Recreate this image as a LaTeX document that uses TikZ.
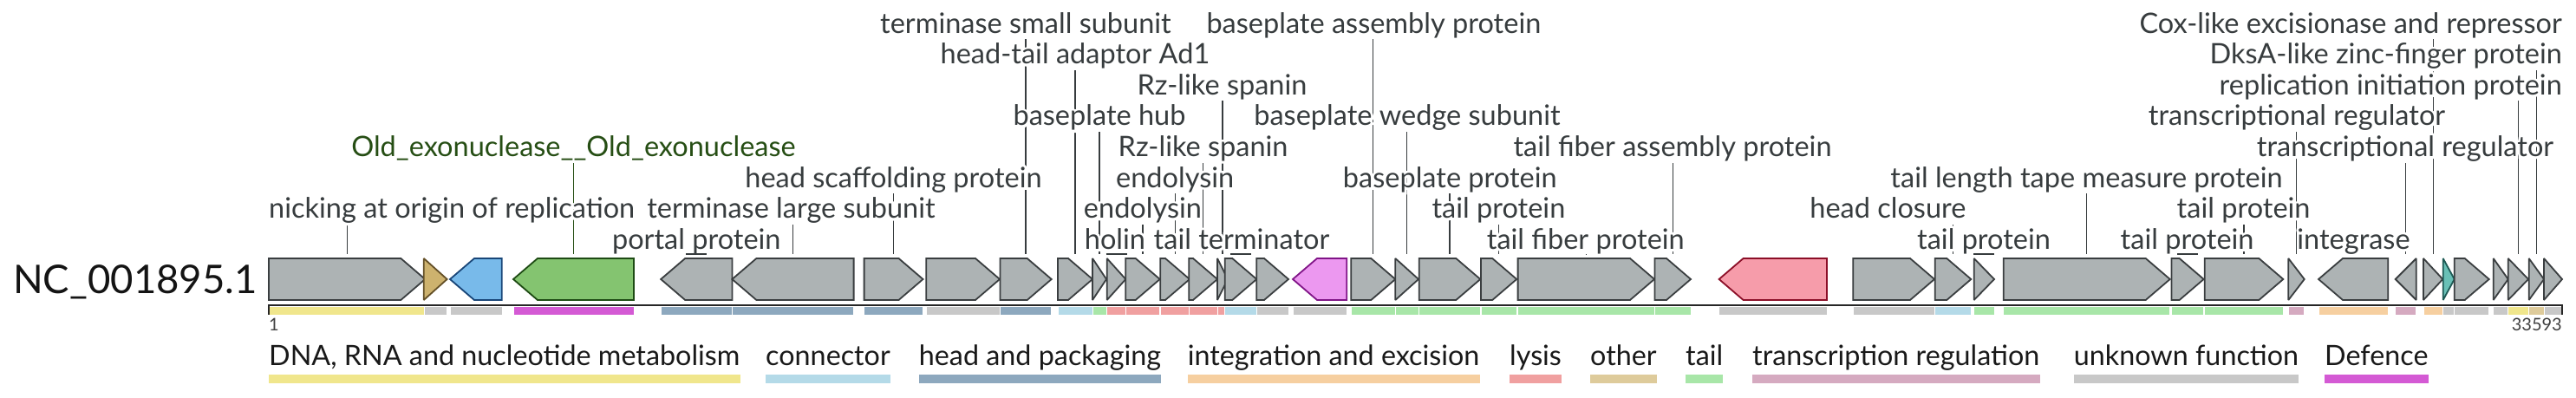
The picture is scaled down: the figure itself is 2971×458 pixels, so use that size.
\documentclass[tikz,border=0pt]{standalone}
\usepackage{fontspec}
\setmainfont{Lato}
\newfontfamily\halofont[FakeBold=17]{Lato}
\usetikzlibrary{calc}
\pgfdeclarelayer{bg}
\pgfsetlayers{bg,main}
\definecolor{gfill}{RGB}{173,179,180}
\definecolor{gline}{RGB}{58,62,64}
\definecolor{labc}{RGB}{55,60,62}
\definecolor{exo}{RGB}{38,78,20}
\definecolor{cDNA}{RGB}{240,230,140}
\definecolor{cCon}{RGB}{180,218,232}
\definecolor{cHead}{RGB}{141,168,190}
\definecolor{cInt}{RGB}{246,207,160}
\definecolor{cLys}{RGB}{240,160,160}
\definecolor{cOth}{RGB}{222,203,155}
\definecolor{cTail}{RGB}{168,230,168}
\definecolor{cTr}{RGB}{213,170,192}
\definecolor{cUnk}{RGB}{200,200,200}
\definecolor{cDef}{RGB}{212,90,212}
\newcommand\fgene[5]{%
  \fill[#5,draw=white,line width=0.6] (#2,353.5) rectangle (#3,363.3);
  \pgfmathsetmacro\gsh{max(#2,#3-28)}%
  \draw[gene,#4] (#2,298) -- (\gsh,298) -- (#3,322) -- (\gsh,346) -- (#2,346) -- cycle;
  \coordinate (#1) at ({(#2+#3)/2},293);}
\newcommand\rgene[5]{%
  \fill[#5,draw=white,line width=0.6] (#2,353.5) rectangle (#3,363.3);
  \pgfmathsetmacro\gsh{min(#3,#2+28)}%
  \draw[gene,#4] (#3,298) -- (\gsh,298) -- (#2,322) -- (\gsh,346) -- (#3,346) -- cycle;
  \coordinate (#1) at ({(#2+#3)/2},293);}
\newcommand\labellist{%
\glab{lnick}{anchor=base west}{310}{7}{nicking at origin of replication}
\glab{lexo}{anchor=base,text=exo}{661.5}{5}{Old\_exonuclease\_\_Old\_exonuclease}
\glab{lportal}{anchor=base}{803.3}{8}{portal protein}
\glab{ltls}{anchor=base}{912.5}{7}{terminase large subunit}
\glab{lhsp}{anchor=base}{1030.5}{6}{head scaffolding protein}
\glab{ltss}{anchor=base}{1183}{1}{terminase small subunit}
\glab{lhta}{anchor=base}{1240}{2}{head-tail adaptor Ad1}
\glab{lbhub}{anchor=base}{1268}{4}{baseplate hub}
\glab{lholin}{anchor=base}{1286}{8}{holin}
\glab{lendoa}{anchor=base}{1318}{7}{endolysin}
\glab{lendob}{anchor=base}{1355.2}{6}{endolysin}
\glab{lrza}{anchor=base}{1387.6}{5}{Rz-like spanin}
\glab{lrzb}{anchor=base}{1409.5}{3}{Rz-like spanin}
\glab{lterm}{anchor=base}{1432}{8}{tail terminator}
\glab{lbas}{anchor=base}{1584.4}{1}{baseplate assembly protein}
\glab{lbwedge}{anchor=base}{1623}{4}{baseplate wedge subunit}
\glab{lbprot}{anchor=base}{1672.3}{6}{baseplate protein}
\glab{ltpa}{anchor=base}{1728.4}{7}{tail protein}
\glab{ltfp}{anchor=base}{1828.8}{8}{tail fiber protein}
\glab{ltfap}{anchor=base}{1929}{5}{tail fiber assembly protein}
\glab{lhclos}{anchor=base}{2177.4}{7}{head closure}
\glab{ltpc}{anchor=base}{2288}{8}{tail protein}
\glab{ltltm}{anchor=base}{2406.5}{6}{tail length tape measure protein}
\glab{ltpd}{anchor=base}{2522.6}{8}{tail protein}
\glab{ltpb}{anchor=base}{2587.6}{7}{tail protein}
\glab{ltra}{anchor=base}{2649}{4}{transcriptional regulator}
\glab{lint}{anchor=base}{2714.5}{8}{integrase}
\glab{ltrb}{anchor=base}{2774}{5}{transcriptional regulator}
\glab{lcox}{anchor=base east}{2955}{1}{Cox-like excisionase and repressor}
\glab{ldks}{anchor=base east}{2955}{2}{DksA-like zinc-finger protein}
\glab{lrep}{anchor=base east}{2955}{3}{replication initiation protein}
}
\newcommand\legitem[4]{%
  \node[leg,anchor=base west] (#1) at (#2,421) {#4};
  \fill[#3] ($(#1.base west)+(0,10.7)$) rectangle ($(#1.base east)+(0,20.7)$);}
\begin{document}
\begin{tikzpicture}[x=1pt,y=-1pt,
  gene/.style={fill=gfill,draw=gline,line width=1.8,line join=miter,miter limit=2},
  gtan/.style={fill={rgb,255:red,205;green,178;blue,110},draw={rgb,255:red,100;green,80;blue,40}},
  gblue/.style={fill={rgb,255:red,120;green,186;blue,234},draw={rgb,255:red,25;green,70;blue,120}},
  ggreen/.style={fill={rgb,255:red,132;green,196;blue,112},draw={rgb,255:red,30;green,75;blue,20}},
  gmag/.style={fill={rgb,255:red,236;green,152;blue,240},draw={rgb,255:red,128;green,20;blue,135}},
  gpink/.style={fill={rgb,255:red,246;green,156;blue,170},draw={rgb,255:red,140;green,15;blue,40}},
  gteal/.style={fill={rgb,255:red,105;green,192;blue,182},draw={rgb,255:red,30;green,90;blue,85}},
  lab/.style={inner sep=0,text height=24,text depth=7,text=labc,font=\fontsize{32.5pt}{32.5pt}\selectfont},
  conn/.style={draw=labc,line width=1.2},
  leg/.style={inner sep=0,text=black!90,font=\fontsize{32.3pt}{32.3pt}\selectfont},
  num/.style={inner sep=0,text=black!75,font=\fontsize{20pt}{20pt}\selectfont}]
\useasboundingbox (0,0) rectangle (2971,458);
% genes and category bars
\fgene{g1}{310}{490.3}{}{cDNA}
\fgene{g2}{488.8}{515.6}{gtan}{cUnk}
\rgene{g3}{519}{578.8}{gblue}{cUnk}
\rgene{g4}{592}{731}{ggreen}{cDef}
\rgene{g5}{762.2}{844.4}{}{cHead}
\rgene{g6}{844.4}{984.6}{}{cHead}
\fgene{g7}{996.6}{1064.5}{}{cHead}
\fgene{g8}{1068.3}{1153}{}{cUnk}
\fgene{g9}{1153.4}{1212.7}{}{cHead}
\fgene{g10}{1220}{1260}{}{cCon}
\fgene{g11}{1260}{1276}{}{cTail}
\fgene{g12}{1276.7}{1298.3}{}{cLys}
\fgene{g13}{1298.3}{1337.7}{}{cLys}
\fgene{g14}{1338.3}{1372}{}{cLys}
\fgene{g15}{1371.3}{1404}{}{cLys}
\fgene{g16}{1404}{1416}{}{cLys}
\fgene{g17}{1412.7}{1449.3}{}{cCon}
\fgene{g18}{1449.3}{1486}{}{cUnk}
\rgene{g19}{1491}{1553.3}{gmag}{cUnk}
\fgene{g20}{1558.3}{1609.3}{}{cTail}
\fgene{g21}{1609.3}{1636}{}{cTail}
\fgene{g22}{1636.7}{1707.3}{}{cTail}
\fgene{g23}{1708}{1749.2}{}{cTail}
\fgene{g24}{1750.6}{1908}{}{cTail}
\fgene{g25}{1908.4}{1950}{}{cTail}
\rgene{g26}{1982.6}{2107}{gpink}{cUnk}
\fgene{g27}{2137.3}{2231}{}{cUnk}
\fgene{g28}{2231.7}{2273.3}{}{cCon}
\fgene{g29}{2276.7}{2300}{}{cTail}
\fgene{g30}{2310.7}{2502.7}{}{cTail}
\fgene{g31}{2504.4}{2541.6}{}{cTail}
\fgene{g32}{2542.7}{2633.3}{}{cTail}
\fgene{g33}{2639.3}{2657.7}{}{cTr}
\rgene{g34}{2674}{2754.3}{}{cInt}
\rgene{g35}{2762.7}{2786.7}{}{cTr}
\fgene{g36}{2795}{2817.3}{}{cInt}
\fgene{g37}{2817.7}{2830.7}{gteal}{cUnk}
\fgene{g38}{2830.7}{2870.7}{}{cUnk}
\fgene{g39}{2875.7}{2892.7}{}{cUnk}
\fgene{g40}{2892.7}{2916}{}{cDNA}
\fgene{g41}{2916.7}{2934}{}{cOth}
\fgene{g42}{2934}{2955}{}{cUnk}
% axis
\coordinate (axL) at (310,352);
\coordinate (axR) at (2955,352);
\draw[line width=2,black!85] (axL) -- (axR);
\draw[line width=1.6,black!85] ([yshift=1pt]axL) -- ([yshift=-11.3pt]axL);
\draw[line width=1.6,black!85] ([yshift=1pt]axR) -- ([yshift=-11.3pt]axR);
\node[num,anchor=base west] (n1) at (310,381.7) {1};
\node[num,anchor=base east] (n2) at (2955,381.7) {33593};
\node[inner sep=0,anchor=base west,text=black!92,font=\fontsize{45.5pt}{45.5pt}\selectfont] (seq) at (15,338.5) {NC\_001895.1};
% labels: halo pass then text pass
\def\glab#1#2#3#4#5{\node[lab,#2,text=white,font=\halofont\fontsize{32.5pt}{32.5pt}\selectfont] (#1h) at (#3,{38+35.6*(#4-1)}) {#5};}
\labellist
\def\glab#1#2#3#4#5{\node[lab,#2] (#1) at (#3,{38+35.6*(#4-1)}) {#5};}
\labellist
% connectors
\begin{pgfonlayer}{bg}
\draw[conn,draw=exo] (g4) -- (g4 |- lexo.south);
\foreach \g/\l in {g1/lnick,g5/lportal,g6/ltls,g7/lhsp,g9/ltss,g10/lhta,g11/lbhub,g12/lholin,g13/lendoa,g14/lendob,g15/lrza,g16/lrzb,g17/lterm,g20/lbas,g21/lbwedge,g22/lbprot,g23/ltpa,g24/ltfp,g25/ltfap,g28/lhclos,g29/ltpc,g30/ltltm,g31/ltpd,g32/ltpb,g33/ltra,g34/lint,g35/ltrb,g36/lcox,g41/ldks,g40/lrep}
  {\draw[conn] (\g) -- (\g |- \l.south);}
\end{pgfonlayer}
\foreach \g in {g5,g12,g17,g29,g31}
  {\draw[conn] ([xshift=-12pt]\g) -- ([xshift=12pt]\g);}
% legend
\legitem{k1}{310}{cDNA}{DNA, RNA and nucleotide metabolism}
\legitem{k2}{883}{cCon}{connector}
\legitem{k3}{1059.7}{cHead}{head and packaging}
\legitem{k4}{1369.6}{cInt}{integration and excision}
\legitem{k5}{1741}{cLys}{lysis}
\legitem{k6}{1834}{cOth}{other}
\legitem{k7}{1944}{cTail}{tail}
\legitem{k8}{2021}{cTr}{transcription regulation}
\legitem{k9}{2391.7}{cUnk}{unknown function}
\legitem{k10}{2681}{cDef}{Defence}
\end{tikzpicture}
\end{document}
